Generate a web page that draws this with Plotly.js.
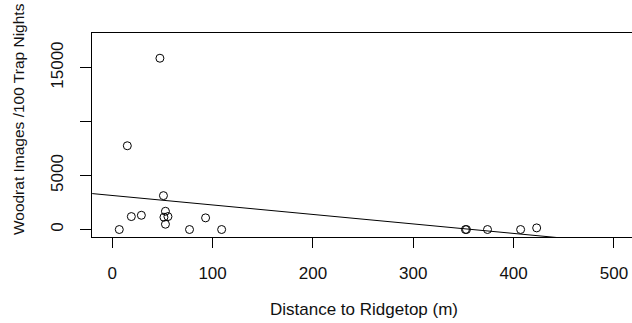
<!DOCTYPE html>
<html>
<head>
<meta charset="utf-8">
<script src="https://cdn.plot.ly/plotly-3.0.1.min.js"></script>
<style>
html,body{margin:0;padding:0;overflow:hidden;background:#fff;width:632px;height:323px;}
#chart{width:640px;height:323px;}
</style>
</head>
<body>
<div id="chart"></div>
<script>
// Distance to ridgetop (m)
const distance = [7, 15, 19, 29, 47.5, 51, 51.5, 53, 53, 55.5, 77, 93, 109, 352, 353, 374, 407, 423];
// Woodrat images per 100 trap nights
const images = [0, 7760, 1200, 1320, 15870, 3140, 1140, 1690, 490, 1200, 0, 1080, 0, 0, 0, 0, 0, 150];
// Fitted line
const intercept = 3154;
const slope = -8.79;
const lineX = [-20, 460];
const yTickVals = [0, 5000, 10000, 15000];
const yTickText = ['0', '5000', '', '15000'];
const xTickVals = [0, 100, 200, 300, 400, 500];
const xTitle = 'Distance to Ridgetop (m)';
const yTitle = 'Woodrat Images /100 Trap Nights';

const font = {family: 'Liberation Sans, Arial, sans-serif', size: 17, color: '#111'};
const xTitleFont = {family: 'Liberation Sans, Arial, sans-serif', size: 17, color: '#111'};
const yTitleFont = {family: 'Liberation Sans, Arial, sans-serif', size: 15.5, color: '#111'};

const traces = [
  {
    x: lineX,
    y: lineX.map(v => intercept + slope * v),
    mode: 'lines',
    line: {color: '#000', width: 1},
    hoverinfo: 'skip',
    showlegend: false
  },
  {
    x: distance,
    y: images,
    mode: 'markers',
    marker: {symbol: 'circle-open', size: 8, color: '#000', line: {width: 1, color: '#000'}},
    showlegend: false
  }
];

const layout = {
  width: 640,
  height: 323,
  margin: {l: 92, r: 4, t: 33, b: 85.5},
  paper_bgcolor: '#fff',
  plot_bgcolor: '#fff',
  font: font,
  showlegend: false,
  xaxis: {
    range: [-20.2, 522],
    tickvals: xTickVals,
    ticks: 'outside',
    ticklen: 10,
    tickcolor: '#000',
    tickwidth: 1,
    ticklabelstandoff: 11,
    showgrid: false,
    zeroline: false,
    showline: true,
    linecolor: '#000',
    linewidth: 1,
    mirror: true,
    tickfont: font
  },
  yaxis: {
    range: [-693, 18207],
    tickvals: yTickVals,
    ticktext: yTickText,
    tickangle: -90,
    ticks: 'outside',
    ticklen: 11,
    tickcolor: '#000',
    tickwidth: 1,
    ticklabelstandoff: 10,
    showgrid: false,
    zeroline: false,
    showline: true,
    linecolor: '#000',
    linewidth: 1,
    mirror: true,
    tickfont: font
  },
  annotations: [
    {
      text: xTitle, font: xTitleFont, showarrow: false,
      xref: 'paper', yref: 'paper', x: 0.5, y: 0,
      xanchor: 'center', yanchor: 'middle', yshift: -72.5
    },
    {
      text: yTitle, font: yTitleFont, showarrow: false, textangle: -90,
      xref: 'paper', yref: 'paper', x: 0, y: 0.578,
      xanchor: 'center', yanchor: 'middle', xshift: -74
    }
  ]
};

Plotly.newPlot('chart', traces, layout, {displayModeBar: false, staticPlot: true});
</script>
</body>
</html>
